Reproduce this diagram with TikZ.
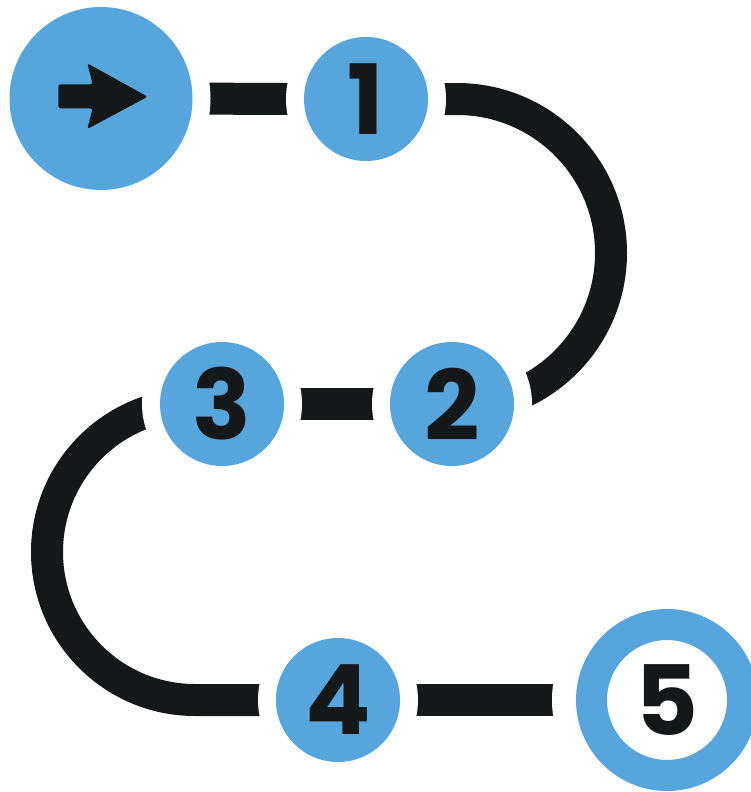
\documentclass[tikz,border=0pt]{standalone}
\usepackage{fontspec}
\newfontfamily\numfont{Poppins}
\usetikzlibrary{backgrounds}
\definecolor{stepblue}{HTML}{56A5DC}
\definecolor{ink}{HTML}{141819}
\begin{document}
\begin{tikzpicture}[x=1pt,y=-1pt,
  stepnode/.style={circle, fill=stepblue, inner sep=0pt, minimum size=124pt,
    preaction={draw=white, line width=36pt},
    font=\numfont\bfseries\fontsize{97}{97}\selectfont, text=ink},
  track/.style={draw=ink, line width=32pt}]
\useasboundingbox (0,0) rectangle (751,792);
\clip (0,0) rectangle (751,792);
\node[stepnode, minimum size=183pt] (start) at (101,98.5) {};
\node[stepnode] (s1) at (366,99) {1};
\node[stepnode] (s2) at (452,404) {2};
\node[stepnode] (s3) at (222,404) {3};
\node[stepnode] (s4) at (338,700) {4};
\node[stepnode, fill=white, draw=stepblue, line width=31pt, minimum size=151pt,
  preaction={draw=white, line width=79pt}] (s5) at (667,700) {5};
\begin{scope}[shift={(start.center)}]
  \fill[ink, rounded corners=2.5pt] (-13.7,-35.2) -- (46.7,-1.8) -- (-13.7,30.5) -- (-8.3,9.8)
    -- (-42.7,9.8) -- (-42.7,-14.2) -- (-8.3,-14.2) -- cycle;
\end{scope}
\begin{scope}[on background layer]
  \draw[track] (start) -- (s1);
  \draw[track] (s1.center) -- (457,99) arc[start angle=-90, end angle=90, radius=154] -- (s2.center);
  \draw[track] (s3) -- (s2);
  \draw[track] (s3.center) -- (195,404) arc[start angle=-90, end angle=-270, radius=148] -- (s4.center);
  \draw[track] (s4) -- (s5);
\end{scope}
\end{tikzpicture}
\end{document}
